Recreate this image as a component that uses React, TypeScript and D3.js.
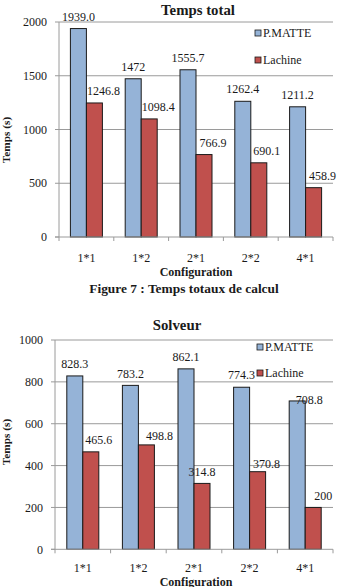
import React from 'react';
import * as d3 from 'd3';

// Configurations tested and measured run times (seconds)
const configs = ['1*1', '1*2', '2*1', '2*2', '4*1'];
const seriesNames = ['P.MATTE', 'Lachine'];

const totalMatte = [1939.0, 1472, 1555.7, 1262.4, 1211.2];
const totalLachine = [1246.8, 1098.4, 766.9, 690.1, 458.9];
const totalLabels = [
  ['1939.0', '1472', '1555.7', '1262.4', '1211.2'],
  ['1246.8', '1098.4', '766.9', '690.1', '458.9'],
];
const totalTicks = [0, 500, 1000, 1500, 2000];

const solverMatte = [828.3, 783.2, 862.1, 774.3, 708.8];
const solverLachine = [465.6, 498.8, 314.8, 370.8, 200];
const solverLabels = [
  ['828.3', '783.2', '862.1', '774.3', '708.8'],
  ['465.6', '498.8', '314.8', '370.8', '200'],
];
const solverTicks = [0, 200, 400, 600, 800, 1000];

// hand-placed label offsets [dx, dy] per series, per bar
const totalShift = [
  [[0, 0], [0, 0], [0, 0], [0, 0], [0, 0]],
  [[9, 0], [9, 0], [9, 0], [8, 0], [9, 0]],
];
const solverShift = [
  [[0, 0], [0, 0], [0, 0], [0, 0], [12, 11]],
  [[8, 0], [13, 3], [0, 0], [9, 4], [10, 0]],
];

const SERIF = '"Liberation Serif", "Times New Roman", serif';
const COLORS = ['#95B3D7', '#C0504D'];
const GRID = '#9a9a9a';
const INK = '#1a1a1a';

interface ChartProps {
  title: string;
  titleX: number;
  titleY: number;
  series: number[][];
  labels: string[][];
  shift: number[][][];
  ticks: number[];
  left: number;
  right: number;
  y0: number;
  yTop: number;
  yLabelY: number;
  xLabelY: number;
  axisTitleY: number;
  legendX: number;
  legendY: number[];
}

const BarChart: React.FC<ChartProps> = (p) => {
  const yMax = p.ticks[p.ticks.length - 1];
  const y = d3.scaleLinear().domain([0, yMax]).range([p.y0, p.yTop]);
  const x = d3.scaleBand<string>().domain(configs).range([p.left, p.right]).padding(0);
  const barW = 16;
  const bounds = d3.range(configs.length + 1).map(i => p.left + i * x.bandwidth());

  return (
    <g fontFamily={SERIF} fill={INK}>
      <text x={p.titleX} y={p.titleY} textAnchor="middle" fontWeight="bold" fontSize={14.8}>
        {p.title}
      </text>

      {/* gridlines and y axis */}
      {p.ticks.map(t => (
        <g key={t}>
          {t > 0 && (
            <line x1={p.left} x2={p.right} y1={y(t)} y2={y(t)} stroke={GRID} strokeWidth={1} />
          )}
          <line x1={p.left - 4} x2={p.left} y1={y(t)} y2={y(t)} stroke={GRID} strokeWidth={1} />
          <text x={p.left - 12} y={y(t)} dy="0.35em" textAnchor="end" fontSize={12}>
            {t}
          </text>
        </g>
      ))}
      <line x1={p.left} x2={p.left} y1={p.yTop} y2={p.y0} stroke={GRID} strokeWidth={1} />

      {/* bars */}
      {p.series.map((vals, s) =>
        vals.map((v, i) => {
          const cx = (x(configs[i]) as number) + x.bandwidth() / 2;
          const bx = cx - barW + s * barW;
          return (
            <rect
              key={`${s}-${i}`}
              x={bx}
              y={y(v)}
              width={barW}
              height={p.y0 - y(v)}
              fill={COLORS[s]}
              stroke={INK}
              strokeWidth={1}
            />
          );
        })
      )}

      {/* x axis */}
      <line x1={p.left - 4} x2={p.right} y1={p.y0} y2={p.y0} stroke={GRID} strokeWidth={1} />
      {bounds.map((bx, i) => (
        <line key={i} x1={bx} x2={bx} y1={p.y0} y2={p.y0 + 4} stroke={GRID} strokeWidth={1} />
      ))}
      {configs.map(c => (
        <text
          key={c}
          x={(x(c) as number) + x.bandwidth() / 2}
          y={p.xLabelY}
          textAnchor="middle"
          fontSize={12}
        >
          {c}
        </text>
      ))}

      {/* value labels */}
      {p.series.map((vals, s) =>
        vals.map((v, i) => {
          const cx = (x(configs[i]) as number) + x.bandwidth() / 2 - barW / 2 + s * barW;
          const [dx, dy] = p.shift[s][i];
          return (
            <text
              key={`l${s}-${i}`}
              x={cx + dx}
              y={y(v) - 12 + dy}
              dy="0.35em"
              textAnchor="middle"
              fontSize={12}
            >
              {p.labels[s][i]}
            </text>
          );
        })
      )}

      {/* legend */}
      {seriesNames.map((n, s) => (
        <g key={n}>
          <rect
            x={p.legendX}
            y={p.legendY[s] - 3}
            width={6}
            height={6}
            fill={COLORS[s]}
            stroke={INK}
            strokeWidth={0.8}
          />
          <text x={p.legendX + 8} y={p.legendY[s]} dy="0.35em" fontSize={12}>
            {n}
          </text>
        </g>
      ))}

      {/* axis titles */}
      <text
        transform={`translate(10,${p.yLabelY}) rotate(-90)`}
        textAnchor="middle"
        fontWeight="bold"
        fontSize={11.3}
      >
        Temps (s)
      </text>
      <text x={196} y={p.axisTitleY} textAnchor="middle" fontWeight="bold" fontSize={12}>
        Configuration
      </text>
    </g>
  );
};

export default function App() {
  return (
    <svg
      width={347}
      height={587}
      viewBox="0 0 347 587"
      style={{ position: 'absolute', left: 0, top: 0, background: '#fff' }}
    >
      <rect width={347} height={587} fill="#fff" />
      <BarChart
        title="Temps total"
        titleX={198}
        titleY={15}
        series={[totalMatte, totalLachine]}
        labels={totalLabels}
        shift={totalShift}
        ticks={totalTicks}
        left={59}
        right={333}
        y0={237}
        yTop={22}
        yLabelY={140}
        xLabelY={262}
        axisTitleY={276}
        legendX={255}
        legendY={[33, 60]}
      />
      <text
        x={184}
        y={292.5}
        textAnchor="middle"
        fontFamily={SERIF}
        fontWeight="bold"
        fontSize={13.4}
        fill={INK}
      >
        Figure 7 : Temps totaux de calcul
      </text>
      <BarChart
        title="Solveur"
        titleX={177}
        titleY={330}
        series={[solverMatte, solverLachine]}
        labels={solverLabels}
        shift={solverShift}
        ticks={solverTicks}
        left={55}
        right={333}
        y0={549.3}
        yTop={340}
        yLabelY={442}
        xLabelY={572}
        axisTitleY={586}
        legendX={257}
        legendY={[347, 373]}
      />
    </svg>
  );
}
